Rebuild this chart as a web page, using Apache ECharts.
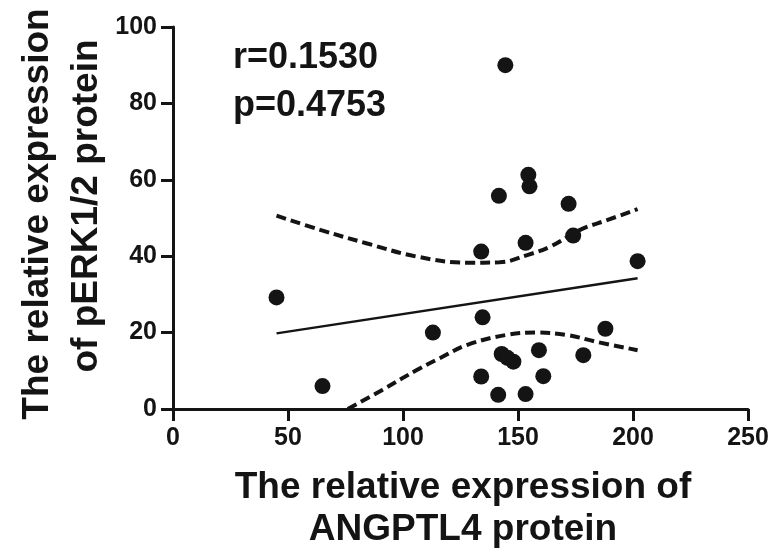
<!DOCTYPE html>
<html>
<head>
<meta charset="utf-8">
<script src="https://cdn.jsdelivr.net/npm/echarts@6/dist/echarts.min.js"></script>
<style>
html,body{margin:0;padding:0;background:#fff;}
#chart{width:781px;height:557px;}
</style>
</head>
<body>
<div id="chart"></div>
<script>
// Scatter data (ANGPTL4 vs pERK1/2)
var pointsX = [45, 65, 113, 144.5, 154.5, 155, 141.7, 172, 174, 153.3, 134, 202, 134.6, 188, 142.9, 145.4, 148, 159.1, 178.4, 134, 161, 141.4, 153.3];
var pointsY = [29.2, 6, 20, 90, 61.3, 58.3, 55.8, 53.7, 45.4, 43.5, 41.2, 38.7, 24, 21, 14.4, 13.4, 12.4, 15.4, 14.1, 8.5, 8.6, 3.7, 3.9];
// Regression line endpoints
var fitX = [45, 202];
var fitY = [19.8, 34.2];
// 95% confidence bands
var upperX = [45, 64, 84, 106, 128, 142, 154, 164, 177, 189, 202];
var upperY = [50.6, 46.9, 43.4, 39.9, 38.3, 38.4, 40.3, 42.5, 46.9, 49.5, 52.3];
var lowerX = [76, 91, 106, 116, 128, 145, 158, 171, 184, 202];
var lowerY = [0, 5.0, 10.2, 13.3, 16.8, 19.4, 20.0, 19.4, 17.6, 15.4];
// Axis ticks
var xTicks = [0, 50, 100, 150, 200, 250];
var yTicks = [0, 20, 40, 60, 80, 100];
var statR = 'r=0.1530';
var statP = 'p=0.4753';
var xTitle = ['The relative expression of', 'ANGPTL4 protein'];
var yTitle = ['The relative expression', 'of pERK1/2 protein'];

function zip(a, b) { return a.map(function (v, i) { return [v, b[i]]; }); }

var INK = '#141414';
var FONT = 'Liberation Sans, Arial, Helvetica, sans-serif';

var chart = echarts.init(document.getElementById('chart'), null, {renderer: 'canvas'});
var axisCommon = {
  type: 'value',
  axisLine: {show: true, lineStyle: {color: INK, width: 3}},
  axisTick: {show: true, length: 12, lineStyle: {color: INK, width: 3}},
  splitLine: {show: false},
  axisLabel: {color: INK, fontSize: 25, fontWeight: 'bold', fontFamily: FONT}
};
var option = {
  backgroundColor: '#fff',
  animation: false,
  grid: {left: 173, right: 33, top: 27, bottom: 148, containLabel: false},
  xAxis: Object.assign({}, axisCommon, {
    min: xTicks[0], max: xTicks[xTicks.length - 1], interval: 50,
    axisLabel: Object.assign({}, axisCommon.axisLabel, {margin: 17})
  }),
  yAxis: Object.assign({}, axisCommon, {
    min: yTicks[0], max: yTicks[yTicks.length - 1], interval: 20,
    axisLabel: Object.assign({}, axisCommon.axisLabel, {margin: 16})
  }),
  series: [
    {
      type: 'line', data: zip(upperX, upperY), smooth: 0.4, symbol: 'none',
      lineStyle: {color: INK, width: 4, type: [10, 5]}, z: 2
    },
    {
      type: 'line', data: zip(lowerX, lowerY), smooth: 0.4, symbol: 'none',
      lineStyle: {color: INK, width: 4, type: [10, 5]}, z: 2
    },
    {
      type: 'line', data: zip(fitX, fitY), symbol: 'none',
      lineStyle: {color: INK, width: 2.5}, z: 2
    },
    {
      type: 'scatter', data: zip(pointsX, pointsY), symbol: 'circle', symbolSize: 16,
      itemStyle: {color: INK, opacity: 1}, z: 3
    }
  ],
  graphic: [
    {type: 'text', left: 233, top: 40, style: {text: statR, font: 'bold 36px ' + FONT, fill: INK}},
    {type: 'text', left: 233, top: 88, style: {text: statP, font: 'bold 36px ' + FONT, fill: INK}},
    {type: 'text', x: 463, y: 488, style: {text: xTitle[0], font: 'bold 37px ' + FONT, fill: INK, textAlign: 'center', textVerticalAlign: 'middle'}},
    {type: 'text', x: 463, y: 530, style: {text: xTitle[1], font: 'bold 37px ' + FONT, fill: INK, textAlign: 'center', textVerticalAlign: 'middle'}},
    {type: 'text', x: 38, y: 214, rotation: Math.PI / 2, style: {text: yTitle[0], font: 'bold 37px ' + FONT, fill: INK, textAlign: 'center', textVerticalAlign: 'middle'}},
    {type: 'text', x: 87, y: 206, rotation: Math.PI / 2, style: {text: yTitle[1], font: 'bold 37px ' + FONT, fill: INK, textAlign: 'center', textVerticalAlign: 'middle'}}
  ]
};
chart.setOption(option);
</script>
</body>
</html>
